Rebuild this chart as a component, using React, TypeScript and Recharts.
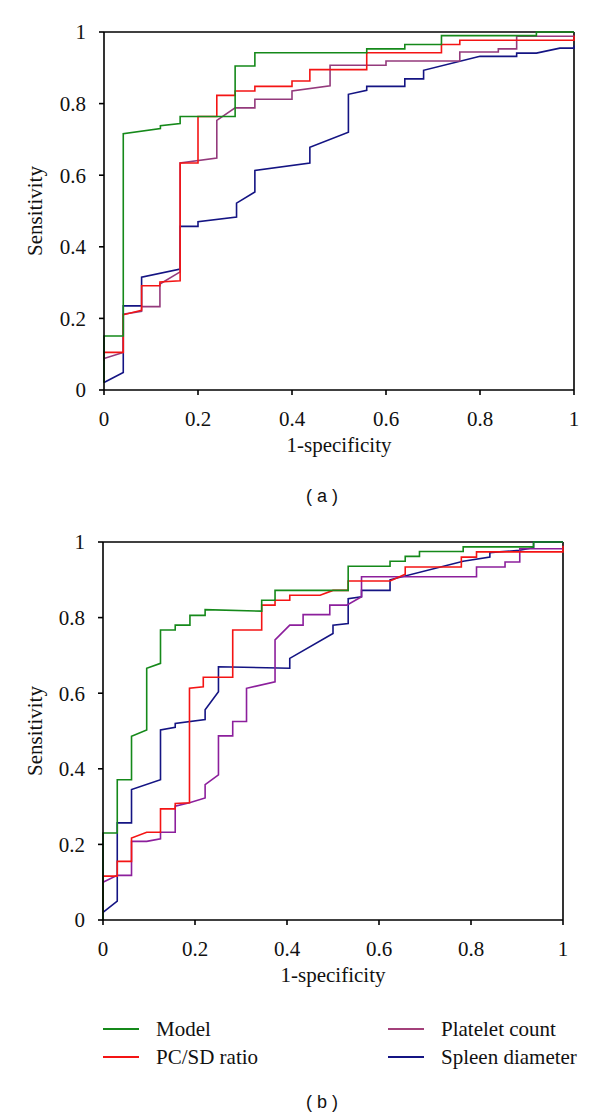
import React from 'react'
import { LineChart, Line, XAxis, YAxis, ReferenceLine } from 'recharts'

type Pt = [number, number]

const tickValues = [0, 0.2, 0.4, 0.6, 0.8, 1]
const tickLabels = ['0', '0.2', '0.4', '0.6', '0.8', '1']

const seriesNames = ['Model', 'PC/SD ratio', 'Platelet count', 'Spleen diameter']
const colorsA = ['#15891a', '#f41414', '#943a7c', '#141483']
const colorsB = ['#15891a', '#f41414', '#8c1f9c', '#141483']
const legendColors = ['#15891a', '#f41414', '#a3407a', '#141483']

// panel (a)
const modelA: Pt[] = [
  [0, 0.02], [0, 0.151], [0.041, 0.151], [0.041, 0.716], [0.12, 0.73], [0.12, 0.738],
  [0.162, 0.744], [0.162, 0.764], [0.279, 0.764], [0.279, 0.905], [0.321, 0.905], [0.321, 0.942],
  [0.559, 0.942], [0.559, 0.953], [0.64, 0.953], [0.64, 0.965], [0.718, 0.965], [0.718, 0.99],
  [0.92, 0.99], [0.92, 1], [1, 1],
]
const ratioA: Pt[] = [
  [0, 0.082], [0, 0.105], [0.041, 0.105], [0.041, 0.21], [0.08, 0.223], [0.08, 0.291],
  [0.119, 0.291], [0.119, 0.302], [0.162, 0.305], [0.162, 0.634], [0.2, 0.634], [0.2, 0.764],
  [0.24, 0.764], [0.24, 0.823], [0.279, 0.823], [0.279, 0.835], [0.321, 0.835], [0.321, 0.848],
  [0.4, 0.848], [0.4, 0.863], [0.438, 0.863], [0.438, 0.895], [0.559, 0.895], [0.559, 0.942],
  [0.718, 0.942], [0.718, 0.965], [0.757, 0.965], [0.757, 0.977], [1, 0.977], [1, 0.99],
]
const plateletA: Pt[] = [
  [0, 0.088], [0.041, 0.105], [0.041, 0.212], [0.08, 0.22], [0.08, 0.233], [0.119, 0.233],
  [0.119, 0.296], [0.162, 0.33], [0.162, 0.634], [0.24, 0.648], [0.24, 0.753], [0.279, 0.788],
  [0.321, 0.788], [0.321, 0.812], [0.4, 0.812], [0.4, 0.835], [0.481, 0.85], [0.481, 0.907],
  [0.6, 0.907], [0.6, 0.919], [0.757, 0.919], [0.757, 0.944], [0.839, 0.944], [0.839, 0.953],
  [0.878, 0.953], [0.878, 0.988], [1, 0.988],
]
const spleenA: Pt[] = [
  [0, 0.021], [0.041, 0.049], [0.041, 0.235], [0.08, 0.235], [0.08, 0.315], [0.162, 0.338],
  [0.162, 0.457], [0.2, 0.457], [0.2, 0.47], [0.282, 0.483], [0.282, 0.522], [0.321, 0.553],
  [0.321, 0.613], [0.438, 0.634], [0.438, 0.678], [0.52, 0.72], [0.52, 0.826], [0.559, 0.837],
  [0.559, 0.848], [0.64, 0.848], [0.64, 0.869], [0.68, 0.869], [0.68, 0.893], [0.8, 0.932],
  [0.878, 0.932], [0.878, 0.941], [0.92, 0.941], [0.97, 0.955], [1, 0.955], [1, 0.962],
]

// panel (b)
const modelB: Pt[] = [
  [0, 0], [0, 0.23], [0.031, 0.23], [0.031, 0.371], [0.062, 0.371], [0.062, 0.486],
  [0.095, 0.503], [0.095, 0.666], [0.125, 0.679], [0.125, 0.767], [0.157, 0.767], [0.157, 0.78],
  [0.189, 0.78], [0.189, 0.806], [0.222, 0.806], [0.222, 0.821], [0.345, 0.817], [0.345, 0.846],
  [0.374, 0.846], [0.374, 0.872], [0.533, 0.872], [0.533, 0.936], [0.624, 0.936], [0.624, 0.949],
  [0.657, 0.949], [0.657, 0.962], [0.688, 0.962], [0.688, 0.975], [0.783, 0.975], [0.783, 0.987],
  [0.936, 0.987], [0.936, 1], [1, 1],
]
const ratioB: Pt[] = [
  [0, 0.02], [0, 0.116], [0.031, 0.116], [0.031, 0.155], [0.062, 0.155], [0.062, 0.217],
  [0.095, 0.232], [0.125, 0.232], [0.125, 0.294], [0.157, 0.294], [0.157, 0.308], [0.188, 0.31],
  [0.188, 0.613], [0.218, 0.617], [0.218, 0.642], [0.282, 0.642], [0.282, 0.767], [0.345, 0.767],
  [0.345, 0.833], [0.374, 0.833], [0.374, 0.846], [0.406, 0.846], [0.406, 0.859], [0.472, 0.859],
  [0.5, 0.872], [0.533, 0.872], [0.533, 0.897], [0.624, 0.897], [0.657, 0.915], [0.657, 0.934],
  [0.779, 0.934], [0.779, 0.96], [0.812, 0.96], [0.812, 0.974], [1, 0.974], [1, 0.99],
]
const plateletB: Pt[] = [
  [0, 0.1], [0.031, 0.118], [0.062, 0.118], [0.062, 0.208], [0.095, 0.208], [0.125, 0.215],
  [0.125, 0.232], [0.157, 0.232], [0.157, 0.301], [0.188, 0.31], [0.222, 0.323], [0.222, 0.358],
  [0.251, 0.384], [0.251, 0.487], [0.282, 0.487], [0.282, 0.525], [0.312, 0.525], [0.312, 0.613],
  [0.374, 0.63], [0.374, 0.741], [0.406, 0.78], [0.435, 0.78], [0.435, 0.808], [0.493, 0.808],
  [0.493, 0.833], [0.53, 0.833], [0.562, 0.855], [0.562, 0.908], [0.812, 0.908], [0.812, 0.934],
  [0.874, 0.934], [0.874, 0.947], [0.906, 0.947], [0.906, 0.982], [1, 0.982],
]
const spleenB: Pt[] = [
  [0, 0.02], [0.031, 0.05], [0.031, 0.257], [0.062, 0.257], [0.062, 0.345], [0.125, 0.371],
  [0.125, 0.503], [0.157, 0.51], [0.157, 0.52], [0.222, 0.53], [0.222, 0.556], [0.251, 0.604],
  [0.251, 0.67], [0.406, 0.666], [0.406, 0.692], [0.5, 0.758], [0.5, 0.78], [0.533, 0.784],
  [0.533, 0.85], [0.562, 0.855], [0.562, 0.872], [0.624, 0.872], [0.624, 0.9], [0.783, 0.949],
  [0.841, 0.96], [0.841, 0.972], [0.906, 0.978], [0.936, 0.985], [0.936, 1], [1, 1],
]

const serif = 'Liberation Serif'
const sans = 'Liberation Sans'
const ink = '#111'

const toRows = (pts: Pt[]) => pts.map(([x, y]) => ({ x, y }))
const fmtTick = (v: number) => tickLabels[tickValues.indexOf(v)] ?? String(v)

// draw order: blue, purple, red, green on top
const drawOrder = [3, 2, 1, 0]

interface PanelProps {
  top: number
  height: number
  plot: { top: number; bottom: number; left: number; right: number }
  series: Pt[][]
  colors: string[]
  tag: string
  tagY: number
}

function RocPanel({ top, height, plot, series, colors, tag, tagY }: PanelProps) {
  const xAxisH = 70
  const marginTop = plot.top - top
  const marginBottom = top + height - plot.bottom - xAxisH
  const midY = marginTop + (plot.bottom - plot.top) / 2
  const axisStyle = { stroke: '#000', strokeWidth: 1.6 }

  return (
    <>
      <div style={{ position: 'absolute', left: 0, top }}>
        <LineChart
          width={600}
          height={height}
          margin={{ top: marginTop, right: 600 - plot.right, left: 0, bottom: marginBottom }}
          style={{ fontFamily: serif }}
        >
          <XAxis
            type="number"
            dataKey="x"
            domain={[0, 1]}
            ticks={tickValues}
            tickFormatter={fmtTick}
            height={xAxisH}
            axisLine={axisStyle}
            tickLine={axisStyle}
            tickSize={5}
            tickMargin={16}
            tick={{ fill: ink, fontSize: 21, fontFamily: serif }}
            label={{ value: '1-specificity', position: 'insideBottom', offset: 8, fill: ink, fontSize: 21, fontFamily: serif }}
          />
          <YAxis
            type="number"
            domain={[0, 1]}
            ticks={tickValues}
            tickFormatter={fmtTick}
            width={plot.left}
            axisLine={axisStyle}
            tickLine={axisStyle}
            tickSize={5}
            tickMargin={13}
            tick={{ fill: ink, fontSize: 21, fontFamily: serif }}
            label={() => (
              <text
                x={35}
                y={midY}
                transform={`rotate(-90 35 ${midY})`}
                textAnchor="middle"
                dominantBaseline="central"
                fill={ink}
                style={{ fontSize: 21, fontFamily: serif }}
              >
                Sensitivity
              </text>
            )}
          />
          <ReferenceLine y={1} stroke="#000" strokeWidth={1.6} />
          <ReferenceLine x={1} stroke="#000" strokeWidth={1.6} />
          {drawOrder.map((i) => (
            <Line
              key={seriesNames[i]}
              name={seriesNames[i]}
              data={toRows(series[i])}
              dataKey="y"
              type="linear"
              stroke={colors[i]}
              strokeWidth={1.6}
              dot={false}
              activeDot={false}
              isAnimationActive={false}
            />
          ))}
        </LineChart>
      </div>
      <div
        style={{
          position: 'absolute',
          left: 0,
          width: 644,
          top: tagY - 12,
          lineHeight: '24px',
          textAlign: 'center',
          fontFamily: sans,
          fontSize: 18,
          color: ink,
          whiteSpace: 'pre',
        }}
      >
        {`( ${tag} )`}
      </div>
    </>
  )
}

function LegendBlock() {
  const cols = [
    [0, 1],
    [2, 3],
  ]
  const colX = [103, 388]
  const rowY = [1029, 1057]
  return (
    <>
      {cols.map((col, c) =>
        col.map((idx, r) => (
          <div
            key={seriesNames[idx]}
            style={{
              position: 'absolute',
              left: colX[c],
              top: rowY[r] - 14,
              height: 28,
              display: 'flex',
              alignItems: 'center',
              fontFamily: serif,
              fontSize: 21,
              color: ink,
              whiteSpace: 'nowrap',
            }}
          >
            <span style={{ display: 'inline-block', width: 36, height: 0, borderTop: `2px solid ${legendColors[idx]}`, marginRight: 17 }} />
            {seriesNames[idx]}
          </div>
        ))
      )}
    </>
  )
}

export default function App() {
  return (
    <div style={{ position: 'absolute', left: 0, top: 0, width: 600, height: 1119, background: '#fff' }}>
      <RocPanel
        top={0}
        height={480}
        plot={{ top: 32, bottom: 390, left: 104, right: 574 }}
        series={[modelA, ratioA, plateletA, spleenA]}
        colors={colorsA}
        tag="a"
        tagY={496}
      />
      <RocPanel
        top={500}
        height={500}
        plot={{ top: 542, bottom: 920, left: 103, right: 563 }}
        series={[modelB, ratioB, plateletB, spleenB]}
        colors={colorsB}
        tag="b"
        tagY={1102}
      />
      <LegendBlock />
    </div>
  )
}
